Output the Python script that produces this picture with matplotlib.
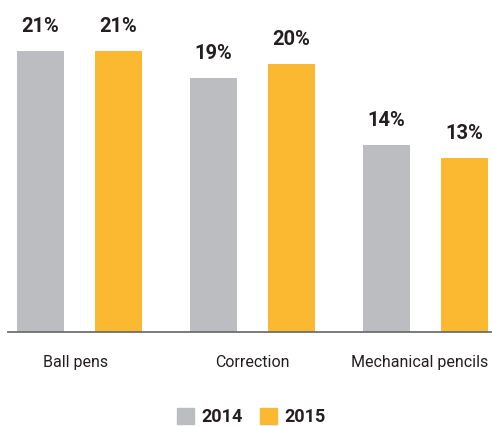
import numpy as np
import matplotlib.pyplot as plt
from matplotlib.patches import Patch
import matplotlib.transforms as mtransforms

# Share of sales by product category, 2014 vs 2015 (%)
categories = ['Ball pens', 'Correction', 'Mechanical pencils']
share_2014 = [21, 19, 14]
share_2015 = [21, 20, 13]
years = ['2014', '2015']

gray = '#bcbdc0'
orange = '#fbb932'
text_color = '#231f20'

plt.rcParams['font.family'] = ['Roboto', 'DejaVu Sans']

fig = plt.figure(figsize=(4.92, 4.26), dpi=100)
ax = fig.add_axes([8 / 492, (426 - 332) / 426, 484 / 492, 332 / 426])

x = np.arange(len(categories))
offset = 0.225
width = 0.272

bars1 = ax.bar(x - offset, share_2014, width, color=gray)
bars2 = ax.bar(x + offset, share_2015, width, color=orange)

# value labels above each bar
for bars, vals in [(bars1, share_2014), (bars2, share_2015)]:
    for b, v in zip(bars, vals):
        ax.annotate(f'{v}%', (b.get_x() + b.get_width() / 2, v),
                    xytext=(0, 19), textcoords='offset pixels',
                    ha='center', va='baseline', fontsize=14.5,
                    fontweight='bold', color=text_color)

ax.set_xlim(-0.413, 2.384)
ax.set_ylim(0, 332 / 13.38)

# category names under the axis
trans = mtransforms.blended_transform_factory(ax.transData, ax.transAxes)
label_y = -35 / 332
ax.text(0 - 0.02, label_y, categories[0], transform=trans, ha='center',
        va='baseline', fontsize=11.5, color=text_color)
ax.text(1, label_y, categories[1], transform=trans, ha='center',
        va='baseline', fontsize=11.5, color=text_color)
ax.text(2 + offset + width / 2, label_y, categories[2], transform=trans,
        ha='right', va='baseline', fontsize=11.5, color=text_color)

ax.set_xticks([])
ax.set_yticks([])
for side in ['top', 'right', 'left']:
    ax.spines[side].set_visible(False)
ax.spines['bottom'].set_color('#6d6e71')
ax.spines['bottom'].set_linewidth(1.3)

handles = [Patch(color=gray), Patch(color=orange)]
leg = fig.legend(handles, years, loc='center',
                 bbox_to_anchor=(251.5 / 492, 1 - 417 / 426),
                 ncol=2, frameon=False, handlelength=0.95, handleheight=0.95,
                 handletextpad=0.4, columnspacing=0.95,
                 prop={'size': 13, 'weight': 'bold'})
for t in leg.get_texts():
    t.set_color(text_color)

fig.savefig('out.png', dpi=100)
